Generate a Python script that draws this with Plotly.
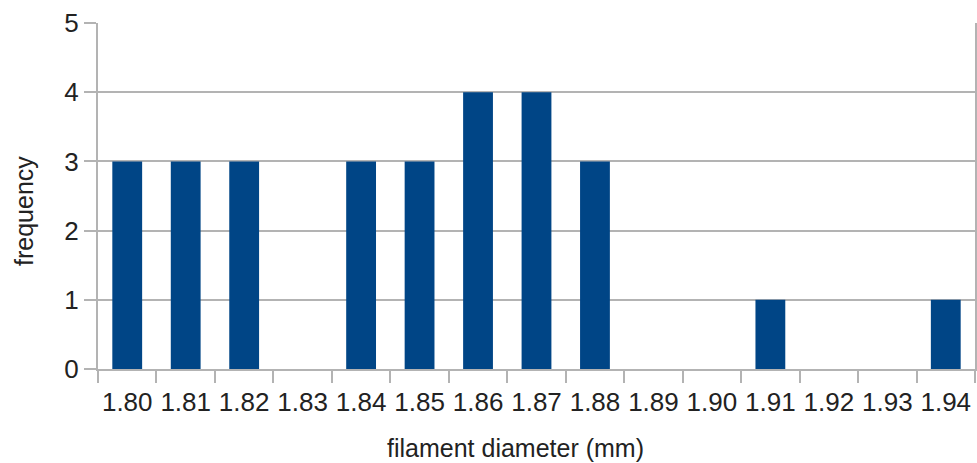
import plotly.graph_objects as go

# filament diameter histogram
diameters = ["1.80", "1.81", "1.82", "1.83", "1.84", "1.85", "1.86", "1.87",
             "1.88", "1.89", "1.90", "1.91", "1.92", "1.93", "1.94"]
frequency = [3, 3, 3, 0, 3, 3, 4, 4, 3, 0, 0, 1, 0, 0, 1]
y_ticks = [0, 1, 2, 3, 4, 5]

grid = "#b3b3b3"
font = "Liberation Sans, Arial, sans-serif"

fig = go.Figure()
fig.add_trace(go.Bar(
    x=diameters,
    y=frequency,
    marker=dict(color="#004586", line=dict(width=0)),
))

fig.update_layout(
    width=977,
    height=463,
    margin=dict(l=98, r=2, t=23, b=94),
    plot_bgcolor="white",
    paper_bgcolor="white",
    bargap=0.49,
    showlegend=False,
    font=dict(family=font, size=25, color="#222222"),
)
fig.update_xaxes(
    type="category",
    automargin=False,
    tickangle=0,
    tickson="boundaries",
    ticks="outside",
    ticklen=12,
    tickcolor=grid,
    tickwidth=2,
    ticklabelstandoff=9,
    showline=True,
    linecolor=grid,
    linewidth=2,
    showgrid=False,
    tickfont=dict(size=26),
)
fig.update_yaxes(
    range=[0, 5],
    automargin=False,
    tickvals=y_ticks,
    ticks="outside",
    ticklen=12,
    tickcolor=grid,
    tickwidth=2,
    showline=True,
    mirror=True,
    linecolor=grid,
    linewidth=2,
    showgrid=True,
    gridcolor=grid,
    gridwidth=2,
    zeroline=False,
    tickfont=dict(size=26),
)

# axis titles sit a little off-centre in the original, so place them by hand
fig.add_annotation(text="filament diameter (mm)", xref="paper", yref="paper",
                   x=0.4766, y=-0.228, xanchor="center", yanchor="middle",
                   showarrow=False, font=dict(size=25))
fig.add_annotation(text="frequency", xref="paper", yref="paper",
                   x=-0.0844, y=0.4566, xanchor="center", yanchor="middle",
                   textangle=-90, showarrow=False, font=dict(size=25))

# drop the default 8px body margin so the figure fills the window
fig.write_html("out.html", config={"displayModeBar": False},
               post_script="document.body.style.margin='0';")
